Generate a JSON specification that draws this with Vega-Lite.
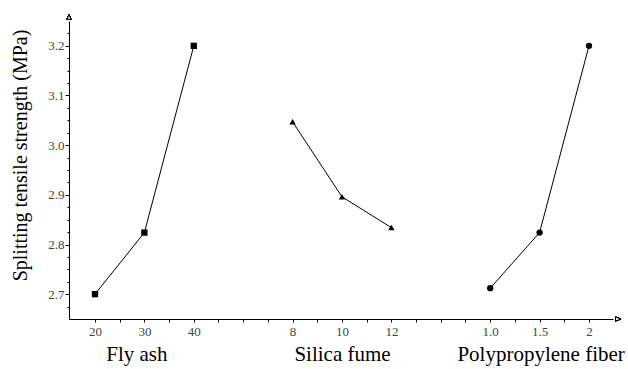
{
  "$schema": "https://vega.github.io/schema/vega-lite/v6.json",
  "width": 544,
  "height": 298,
  "autosize": "none",
  "padding": {"left": 69, "top": 21, "right": 15, "bottom": 50},
  "background": "white",
  "config": {"view": {"stroke": null}, "font": "Liberation Serif"},
  "data": {"values": [
    {"group": "Fly ash", "pos": 0, "level": "20", "strength": 2.70},
    {"group": "Fly ash", "pos": 1, "level": "30", "strength": 2.824},
    {"group": "Fly ash", "pos": 2, "level": "40", "strength": 3.20},
    {"group": "Silica fume", "pos": 4, "level": "8", "strength": 3.047},
    {"group": "Silica fume", "pos": 5, "level": "10", "strength": 2.896},
    {"group": "Silica fume", "pos": 6, "level": "12", "strength": 2.834},
    {"group": "Polypropylene fiber", "pos": 8, "level": "1.0", "strength": 2.712},
    {"group": "Polypropylene fiber", "pos": 9, "level": "1.5", "strength": 2.824},
    {"group": "Polypropylene fiber", "pos": 10, "level": "2", "strength": 3.20}
  ]},
  "layer": [
    {
      "mark": {"type": "line", "color": "black", "strokeWidth": 1},
      "encoding": {
        "x": {"field": "pos", "type": "quantitative", "scale": {"domain": [-0.526, 10.486], "nice": false, "zero": false},
          "axis": {
            "values": [0, 0.5, 1, 1.5, 2, 2.5, 3, 3.5, 4, 4.5, 5, 5.5, 6, 6.5, 7, 7.5, 8, 8.5, 9, 9.5, 10],
            "labelExpr": "datum.value==0?'20':datum.value==1?'30':datum.value==2?'40':datum.value==4?'8':datum.value==5?'10':datum.value==6?'12':datum.value==8?'1.0':datum.value==9?'1.5':datum.value==10?'2':''",
            "title": null, "grid": false, "orient": "bottom",
            "domainColor": "black", "domainWidth": 1,
            "tickColor": "black", "tickSize": 3, "tickWidth": 1,
            "labelFont": "Liberation Serif", "labelFontSize": 13, "labelColor": "#444",
            "labelPadding": 13, "labelBaseline": "alphabetic", "labelOverlap": false, "labelFlush": false
          }},
        "y": {"field": "strength", "type": "quantitative", "scale": {"domain": [2.65, 3.25], "nice": false, "zero": false},
          "axis": {
            "values": [2.7, 2.8, 2.9, 3.0, 3.1, 3.2], "format": ".1f",
            "title": "Splitting tensile strength (MPa)", "grid": false,
            "domainColor": "black", "domainWidth": 1,
            "tickColor": "black", "tickSize": 4, "tickWidth": 1,
            "labelFont": "Liberation Serif", "labelFontSize": 13, "labelColor": "#444",
            "labelPadding": 1, "labelOverlap": false, "labelFlush": false,
            "titleFont": "Liberation Serif", "titleFontSize": 20, "titleFontWeight": "normal", "titleColor": "black",
            "titleX": -49, "titleY": 134, "titleAlign": "center", "titleBaseline": "middle", "titleAngle": -90
          }},
        "detail": {"field": "group"}
      }
    },
    {
      "mark": {"type": "point", "filled": true, "color": "black", "opacity": 1},
      "encoding": {
        "x": {"field": "pos", "type": "quantitative", "scale": {"domain": [-0.526, 10.486], "nice": false, "zero": false}, "axis": null},
        "y": {"field": "strength", "type": "quantitative", "scale": {"domain": [2.65, 3.25], "nice": false, "zero": false}, "axis": null},
        "shape": {"field": "group", "type": "nominal", "legend": null,
          "scale": {"domain": ["Fly ash", "Silica fume", "Polypropylene fiber"], "range": ["square", "triangle-up", "circle"]}},
        "size": {"value": 40}
      }
    },
    {
      "mark": {"type": "point", "filled": true, "fill": "white", "stroke": "black", "strokeWidth": 1, "opacity": 1,
        "shape": "M-0.45,0.5L0,-0.5L0.45,0.5Z", "size": 81},
      "encoding": {
        "x": {"datum": -0.526, "type": "quantitative", "scale": {"domain": [-0.526, 10.486], "nice": false, "zero": false}, "axis": null},
        "y": {"datum": 3.258, "type": "quantitative", "scale": {"domain": [2.65, 3.25], "nice": false, "zero": false}, "axis": null}
      }
    },
    {
      "mark": {"type": "point", "filled": true, "fill": "white", "stroke": "black", "strokeWidth": 1, "opacity": 1,
        "shape": "M-0.5,-0.36L0.5,0L-0.5,0.36Z", "size": 121},
      "encoding": {
        "x": {"datum": 10.593, "type": "quantitative", "scale": {"domain": [-0.526, 10.486], "nice": false, "zero": false}, "axis": null},
        "y": {"datum": 2.65, "type": "quantitative", "scale": {"domain": [2.65, 3.25], "nice": false, "zero": false}, "axis": null}
      }
    },
    {
      "mark": {"type": "point", "opacity": 0},
      "encoding": {
        "x": {"field": "pos", "type": "quantitative", "scale": {"domain": [-0.526, 10.486], "nice": false, "zero": false},
          "axis": {
            "values": [1, 5, 9], "orient": "bottom",
            "labelExpr": "datum.value==1?'Fly ash':datum.value==5?'Silica fume':'Polypropylene fiber'",
            "title": null, "grid": false, "domain": false, "ticks": false,
            "labelFont": "Liberation Serif", "labelFontSize": 21, "labelColor": "black", "labelLimit": 400,
            "labelPadding": 41, "labelBaseline": "alphabetic", "labelOverlap": false, "labelFlush": false,
            "labelOffset": {"expr": "datum.value==1?-8:datum.value==9?1:0"}
          }},
        "y": {"field": "strength", "type": "quantitative", "scale": {"domain": [2.65, 3.25], "nice": false, "zero": false},
          "axis": {
            "values": [2.675, 2.725, 2.75, 2.775, 2.825, 2.85, 2.875, 2.925, 2.95, 2.975, 3.025, 3.05, 3.075, 3.125, 3.15, 3.175, 3.225],
            "orient": "left",
            "labels": false, "domain": false, "title": null, "grid": false,
            "tickColor": "black", "tickSize": 2, "tickWidth": 1
          }}
      }
    }
  ],
  "resolve": {"axis": {"x": "independent", "y": "independent"}}
}
